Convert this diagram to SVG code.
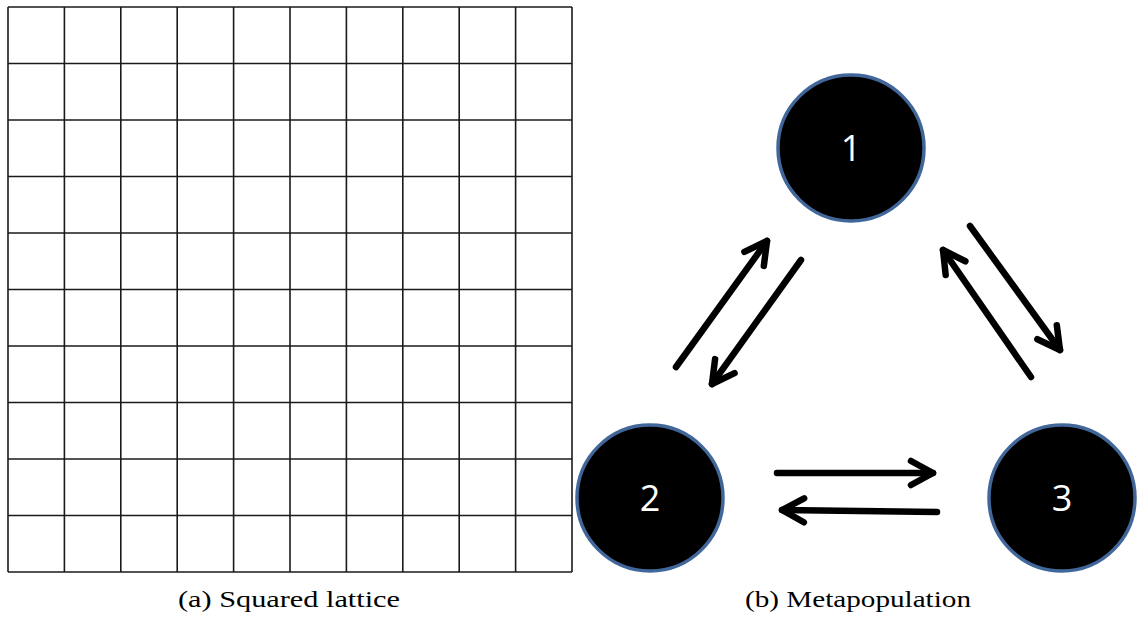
<svg xmlns="http://www.w3.org/2000/svg" width="1141" height="617" viewBox="0 0 1141 617">
<style>
.grid line{stroke:#1a1a1a;stroke-width:1.6}
.node circle{fill:#000;stroke:#41669a;stroke-width:3.5}
.node text{fill:#fff;font-family:"Open Sans","Liberation Sans",sans-serif;font-size:36px;text-anchor:middle}
.arr{stroke:#000;stroke-width:6.5;stroke-linecap:round;fill:none;marker-end:url(#head)}
.cap{font-family:"Liberation Serif",serif;font-size:24px;fill:#000;text-anchor:middle}
</style>
<defs>
<marker id="head" markerUnits="userSpaceOnUse" viewBox="0 0 32 32" markerWidth="32" markerHeight="32" refX="27" refY="16" orient="auto">
<path d="M5,4 L27,16 L5,28" fill="none" stroke="#000" stroke-width="6.5" stroke-linecap="round" stroke-linejoin="round"/>
</marker>
</defs>
<rect width="1141" height="617" fill="#fff"/>
<g id="lattice" class="grid">
<line x1="8" y1="7" x2="8" y2="572"/>
<line x1="64.4" y1="7" x2="64.4" y2="572"/>
<line x1="120.8" y1="7" x2="120.8" y2="572"/>
<line x1="177.2" y1="7" x2="177.2" y2="572"/>
<line x1="233.6" y1="7" x2="233.6" y2="572"/>
<line x1="290" y1="7" x2="290" y2="572"/>
<line x1="346.4" y1="7" x2="346.4" y2="572"/>
<line x1="402.8" y1="7" x2="402.8" y2="572"/>
<line x1="459.2" y1="7" x2="459.2" y2="572"/>
<line x1="515.6" y1="7" x2="515.6" y2="572"/>
<line x1="572" y1="7" x2="572" y2="572"/>
<line x1="8" y1="7" x2="572" y2="7"/>
<line x1="8" y1="63.5" x2="572" y2="63.5"/>
<line x1="8" y1="120" x2="572" y2="120"/>
<line x1="8" y1="176.5" x2="572" y2="176.5"/>
<line x1="8" y1="233" x2="572" y2="233"/>
<line x1="8" y1="289.5" x2="572" y2="289.5"/>
<line x1="8" y1="346" x2="572" y2="346"/>
<line x1="8" y1="402.5" x2="572" y2="402.5"/>
<line x1="8" y1="459" x2="572" y2="459"/>
<line x1="8" y1="515.5" x2="572" y2="515.5"/>
<line x1="8" y1="572" x2="572" y2="572"/>
</g>
<g id="node1" class="node"><circle cx="851" cy="148" r="73"/><text x="851" y="161">1</text></g>
<g id="node2" class="node"><circle cx="650" cy="498" r="73"/><text x="650" y="511">2</text></g>
<g id="node3" class="node"><circle cx="1062" cy="498" r="73"/><text x="1062" y="511">3</text></g>
<g id="connectors">
<line class="arr" x1="676" y1="367" x2="767" y2="241"/>
<line class="arr" x1="801" y1="260" x2="712" y2="384"/>
<line class="arr" x1="970" y1="226" x2="1060" y2="350"/>
<line class="arr" x1="1031" y1="377" x2="943" y2="250"/>
<line class="arr" x1="777" y1="473" x2="933" y2="473"/>
<line class="arr" x1="937" y1="512" x2="782" y2="510"/>
</g>
<text class="cap" x="289" y="607" textLength="222" lengthAdjust="spacingAndGlyphs">(a) Squared lattice</text>
<text class="cap" x="858" y="607" textLength="226" lengthAdjust="spacingAndGlyphs">(b) Metapopulation</text>
</svg>
